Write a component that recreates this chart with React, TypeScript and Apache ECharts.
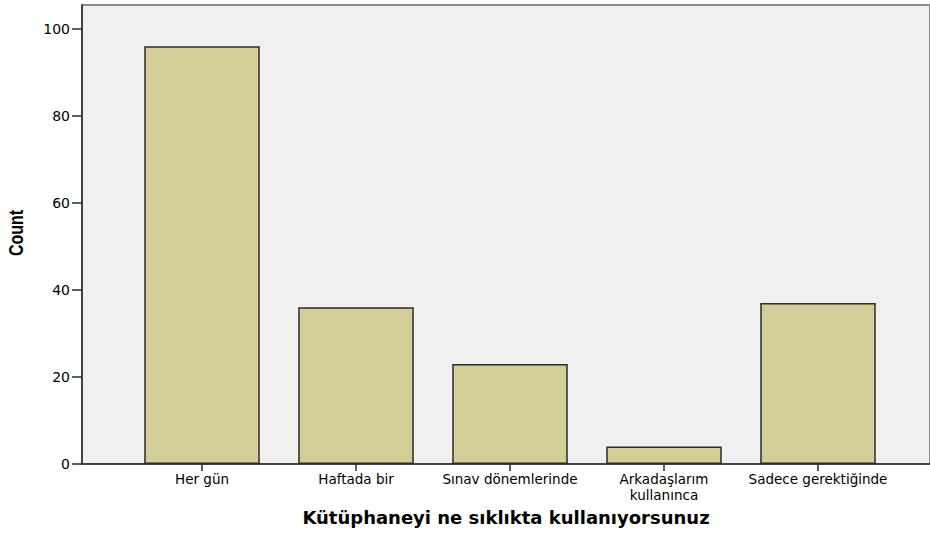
import React, { useEffect, useRef } from "react";
import * as echarts from "echarts";

const categories = [
  "Her gün",
  "Haftada bir",
  "Sınav dönemlerinde",
  "Arkadaşlarım\nkullanınca",
  "Sadece gerektiğinde",
];
const counts = [96, 36, 23, 4, 37];
const yTicks = [0, 20, 40, 60, 80, 100];
const yAxisTitle = "Count";
const xAxisTitle = "Kütüphaneyi ne sıklıkta kullanıyorsunuz";

export default function App() {
  const ref = useRef<HTMLDivElement>(null);
  useEffect(() => {
    if (!ref.current) return;
    const chart = echarts.init(ref.current, undefined, { renderer: "svg" });
    const yMax = 105.5;
    const labelFont = "DejaVu Sans, Verdana, sans-serif";
    chart.setOption({
      animation: false,
      backgroundColor: "#ffffff",
      grid: [
        {
          left: 82,
          top: 5,
          right: -6,
          bottom: 69,
          show: true,
          backgroundColor: "#f0f0f0",
          borderColor: "#8a8a8a",
          borderWidth: 2,
        },
        { left: 125, width: 770, top: 5, bottom: 69 },
      ],
      graphic: [
        {
          type: "text",
          x: 16,
          y: 233,
          rotation: Math.PI / 2,
          scaleX: 0.8,
          style: {
            text: yAxisTitle,
            fill: "#000",
            font: "bold 20px 'Liberation Sans', Arial, sans-serif",
            align: "center",
            verticalAlign: "middle",
          },
        },
      ],
      xAxis: [
        {
          type: "value",
          gridIndex: 0,
          min: 0,
          max: 1,
          axisLine: { show: true, onZero: false, lineStyle: { color: "#2a2a2a", width: 1.5 } },
          axisTick: { show: false },
          axisLabel: { show: false },
          splitLine: { show: false },
          name: xAxisTitle,
          nameLocation: "middle",
          nameGap: 44,
          nameTextStyle: {
            color: "#000",
            fontFamily: labelFont,
            fontWeight: "bold",
            fontSize: 18,
          },
        },
        {
          type: "category",
          gridIndex: 1,
          data: categories,
          axisLine: { show: false },
          axisTick: { show: true, alignWithLabel: true, length: 7, lineStyle: { color: "#2a2a2a", width: 1.5 } },
          axisLabel: {
            color: "#000",
            fontFamily: labelFont,
            fontSize: 13.5,
            margin: 7,
            lineHeight: 16,
            interval: 0,
          },
        },
      ],
      yAxis: [
        {
          type: "value",
          gridIndex: 0,
          min: 0,
          max: yMax,
          interval: 20,
          axisLine: { show: true, lineStyle: { color: "#2a2a2a", width: 1.5 } },
          axisTick: { show: true, length: 10, lineStyle: { color: "#2a2a2a", width: 1.5 } },
          axisLabel: {
            color: "#000",
            fontFamily: labelFont,
            fontSize: 14,
            margin: 12,
            showMaxLabel: false,
            formatter: (v: number) => (yTicks.includes(v) ? String(v) : ""),
          },
          splitLine: { show: false },
        },
        {
          type: "value",
          gridIndex: 1,
          min: 0,
          max: yMax,
          show: false,
        },
      ],
      series: [
        {
          type: "bar",
          xAxisIndex: 1,
          yAxisIndex: 1,
          data: counts,
          barCategoryGap: "25%",
          itemStyle: { color: "#d3ce97", borderColor: "#2b2b2b", borderWidth: 1.5 },
        },
      ],
    });
    return () => chart.dispose();
  }, []);
  return (
    <div
      ref={ref}
      style={{ position: "fixed", left: 0, top: 0, width: 930, height: 533 }}
    />
  );
}
